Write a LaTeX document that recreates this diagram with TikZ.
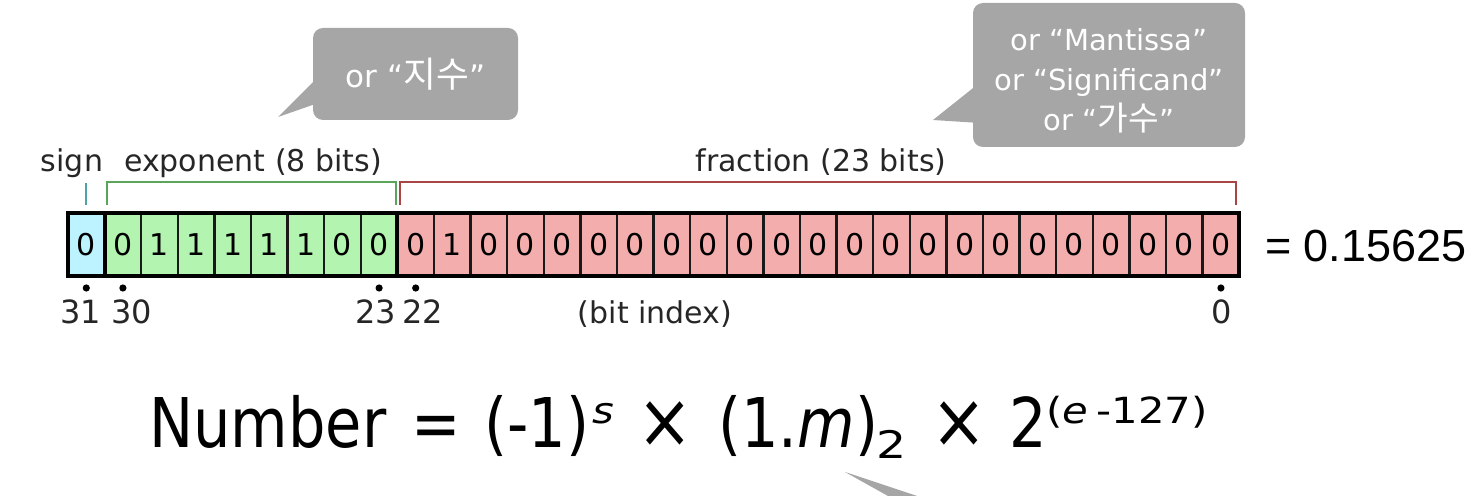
\documentclass[tikz,border=0pt]{standalone}
\usepackage{graphicx}
\usepackage{fontspec}
\setmainfont{DejaVu Sans}
\newfontfamily\valfont{Liberation Sans}
\newfontfamily\eqfont{DejaVu Sans}[FakeStretch=0.86]
\newfontfamily\krfont{Noto Sans CJK KR}[Scale=1.15]
\usetikzlibrary{positioning,calc}

\definecolor{signfill}{HTML}{BDF2FF}
\definecolor{expfill}{HTML}{B3F5B0}
\definecolor{fracfill}{HTML}{F4ADAD}
\definecolor{signline}{HTML}{4FA3A3}
\definecolor{expline}{HTML}{5AA55A}
\definecolor{fracline}{HTML}{A84545}
\definecolor{notegray}{HTML}{A6A6A6}

\newcommand{\upidx}[1]{\raisebox{12pt}{\scalebox{1.35}[1]{\fontsize{18}{18}\selectfont #1}}}
\newcommand{\downidx}[1]{\raisebox{-5.5pt}{\scalebox{1.45}[1]{\fontsize{19}{19}\selectfont #1}}}
\newcommand{\mtimes}{\scalebox{1.12}{×}}

\tikzset{
  bitcell/.style={draw=black!90, line width=1.2pt, minimum width=18.3pt,
    minimum height=31.5pt, inner sep=0pt, outer sep=0pt,
    font=\fontsize{15}{18}\selectfont},
  idx/.style={anchor=base, font=\fontsize{16}{18}\selectfont, text=black!85},
  field/.style={anchor=base, font=\fontsize{15}{18}\selectfont, text=black!85},
  note/.style={fill=notegray, rounded corners=5pt, text=white, align=center,
    inner sep=0pt},
}

\begin{document}
\begin{tikzpicture}[x=0.5pt, y=-0.5pt]
  \useasboundingbox (0,0) rectangle (1475,496);

  % sign, exponent and fraction cells
  \node[bitcell, fill=signfill] (c0) at (86.3,245) {0};
  \foreach \v [count=\i from 1] in {0,1,1,1,1,1,0,0}
    \node[bitcell, fill=expfill] (c\i) at ({68+36.6*(\i+0.5)},245) {\v};
  \foreach \v [count=\i from 9] in {0,1,0,0,0,0,0,0,0,0,0,0,0,0,0,0,0,0,0,0,0,0,0}
    \node[bitcell, fill=fracfill] (c\i) at ({68+36.6*(\i+0.5)},245) {\v};

  % heavy outline and field borders
  \draw[line width=2pt] (c0.north west) rectangle (c31.south east);
  \draw[line width=2pt] (c0.north east) -- (c0.south east)
                        (c8.north east) -- (c8.south east);

  % brackets
  \draw[signline, line width=1pt] ($(c0.north)+(0,-8.5)$) -- ($(c0.north)+(0,-30)$);
  \draw[expline, line width=1pt] ($(c1.north west)+(2.5,-8.5)$) |- ($(c8.north east)+(-1,-31)$)
    -- ($(c8.north east)+(-1,-8.5)$);
  \draw[fracline, line width=1pt] ($(c9.north west)+(2.5,-8.5)$) |- ($(c31.north east)+(-3,-31)$)
    -- ($(c31.north east)+(-3,-8.5)$);

  % field names
  \node[field] (signlbl) at (72,172) {sign};
  \node[field] (explbl) at (253,172) {exponent (8 bits)};
  \node[field] (fraclbl) at (821,172) {fraction (23 bits)};

  % bit index marks
  \foreach \i in {0,1,8,9,31}
    \fill ($(c\i.south)+(0,11.5)$) circle (1.8pt);
  \foreach \x/\n in {80.5/31,132/30,375.5/23,422.5/22,1222/0}
    \node[idx] (idx\n) at (\x,323.5) {\n};
  \node[field] (idxlbl) at (655,323.5) {(bit index)};

  \node[anchor=base west, font=\valfont\fontsize{22.5}{27}\selectfont] (val) at (1258,262) {= 0.15625};

  % callouts
  \node[note, minimum width=102.5pt, minimum height=46pt, font=\fontsize{15.5}{18}\selectfont]
    (expnote) at (415.5,74) {\rule{0pt}{15pt}or “{\krfont 지수}”};
  \coordinate (exptip) at (278,117);
  \fill[notegray] ($(expnote.north west)+(1,54)$) -- (exptip) -- ($(expnote.north west)+(1,77)$) -- cycle;

  \node[note, minimum width=136pt, minimum height=72pt, font=\fontsize{14.5}{20}\selectfont]
    (fracnote) at (1109,75) {\rule{0pt}{17pt}or “Mantissa”\\ or “Significand”\\ or “{\krfont 가수}”};
  \coordinate (fractip) at (933,120);
  \fill[notegray] ($(fracnote.north west)+(1,85)$) -- (fractip) -- ($(fracnote.north west)+(1,120)$) -- cycle;

  % formula
  \node[anchor=base west, inner sep=0pt, font=\eqfont\fontsize{34.3}{40}\selectfont] (formula)
    at (149,447) {\makebox[167.5pt][l]{Number\kern3pt{} =}\makebox[54pt][l]{(-1)}%
      \makebox[22.5pt][l]{\upidx{\textit{s}}}\makebox[40.5pt][l]{\mtimes}%
      \makebox[79pt][l]{(1.\textit{m})}\makebox[27.5pt][l]{\downidx{2}}%
      \makebox[39pt][l]{\mtimes}\makebox[18.5pt][l]{2}\upidx{(\textit{e}\,-127)}};

  % tail of the note below the formula
  \coordinate (mtip) at (845,472);
  \fill[notegray] (mtip) -- (917,496) -- (888,496) -- cycle;
\end{tikzpicture}
\end{document}
